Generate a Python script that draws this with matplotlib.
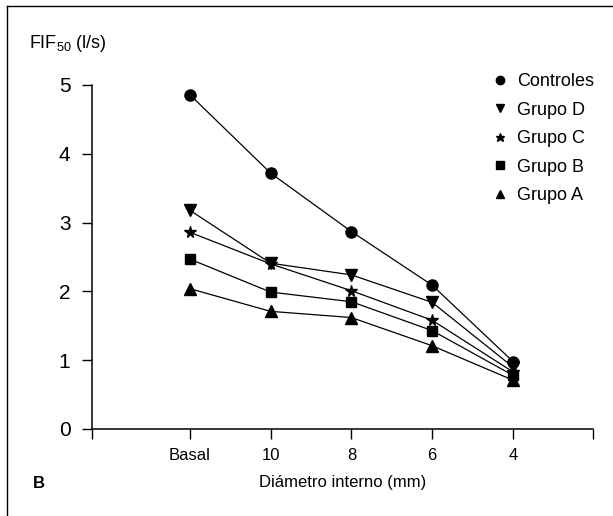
import matplotlib
matplotlib.use("Agg")
import matplotlib.pyplot as plt
from matplotlib.lines import Line2D

plt.rcParams['font.family'] = ['Liberation Sans', 'DejaVu Sans']
plt.rcParams['mathtext.fontset'] = 'custom'
plt.rcParams['mathtext.rm'] = 'Liberation Sans'

# data
categories = ["Basal", "10", "8", "6", "4"]
controles = [4.86, 3.72, 2.87, 2.09, 0.98]
grupo_d = [3.18, 2.41, 2.24, 1.84, 0.90]
grupo_c = [2.86, 2.40, 2.01, 1.58, 0.83]
grupo_b = [2.47, 1.99, 1.85, 1.43, 0.78]
grupo_a = [2.04, 1.71, 1.62, 1.21, 0.71]

series = [
    ("Controles", controles, "o", 8),
    ("Grupo D", grupo_d, "v", 8.5),
    ("Grupo C", grupo_c, "*", 8.5),
    ("Grupo B", grupo_b, "s", 7.5),
    ("Grupo A", grupo_a, "^", 8.5),
]

W, H = 613, 516
fig = plt.figure(figsize=(W / 100, H / 100), dpi=100)
ax = fig.add_axes([92 / W, 1 - 429 / H, (593 - 92) / W, (429 - 85) / H])

x = list(range(len(categories)))
for label, vals, mk, ms in series:
    ax.plot(x, vals, color="black", lw=0.9, marker=mk, ms=ms, label=label)

ax.set_xlim(-1.21, 4.99)
ax.set_ylim(0, 5)
ax.set_xticks([-1.21] + x + [4.99])
ax.set_xticklabels([""] + categories + [""])
ax.set_yticks(range(6))
for s in ("top", "right"):
    ax.spines[s].set_visible(False)
for s in ("left", "bottom"):
    ax.spines[s].set_linewidth(1.1)
ax.tick_params(axis="both", direction="out", length=7, width=1.0, color="black")
ax.tick_params(axis="y", labelsize=15, pad=8.5)
ax.tick_params(axis="x", labelsize=12, pad=7)
ax.set_xlabel("Diámetro interno (mm)", fontsize=12, labelpad=8)

fig.text(29 / W, 1 - 44 / H, "FIF$_\\mathrm{50}$ (l/s)", fontsize=13, va="center", ha="left")
fig.text(33 / W, 1 - 484 / H, "B", fontsize=12, fontweight="heavy", va="center", ha="left")

leg = ax.legend(loc="upper left", bbox_to_anchor=(492 / W, 1 - 73 / H),
                bbox_transform=fig.transFigure, frameon=False, fontsize=13,
                handlelength=0.9, handletextpad=0.5, labelspacing=0.64,
                borderpad=0, borderaxespad=0, numpoints=1, markerscale=0.75)
for h in leg.legend_handles:
    h.set_linestyle("none")

# page frame lines
fig.add_artist(Line2D([7 / W, 1], [1 - 6 / H, 1 - 6 / H], color="black", lw=1.0))
fig.add_artist(Line2D([7 / W, 7 / W], [0, 1 - 6 / H], color="black", lw=1.0))

fig.savefig("out.png", dpi=100)
